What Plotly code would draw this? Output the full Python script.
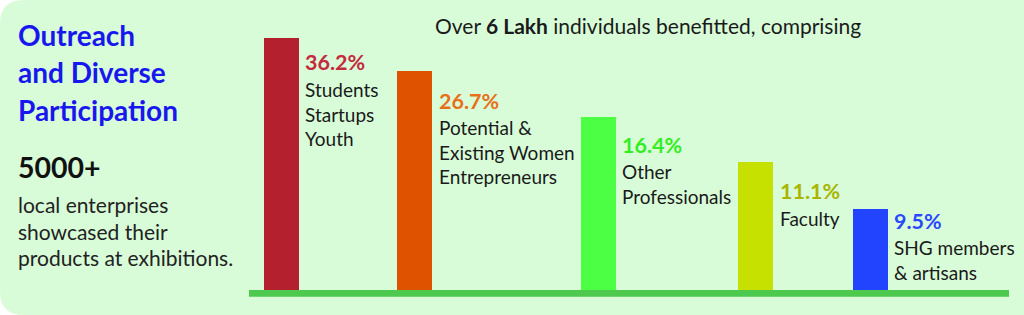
import plotly.graph_objects as go

# ---- data ----
categories = ["Students<br>Startups<br>Youth",
              "Potential &<br>Existing Women<br>Entrepreneurs",
              "Other<br>Professionals",
              "Faculty",
              "SHG members<br>& artisans"]
percent_labels = ["36.2%", "26.7%", "16.4%", "11.1%", "9.5%"]
# bar heights as drawn in the infographic (not proportional to the %)
bar_heights = [36.2, 31.4, 24.8, 18.3, 11.6]
bar_positions = [33.3, 166.8, 350.2, 507.8, 622.3]

bar_colors = ["#b5202f", "#df5300", "#4dff44", "#c6e000", "#2244ff"]
label_colors = ["#c42a3d", "#e8701a", "#33ee22", "#a9b500", "#2a48ff"]
label_drop = [32, 37, 35, 36, 19]  # px from bar top to % baseline

W, H = 1024, 315
FONT = "Lato"
ASC = 0.987

fig = go.Figure()
fig.add_trace(go.Bar(x=bar_positions, y=bar_heights, width=35,
                     marker=dict(color=bar_colors, line=dict(width=0)),
                     hoverinfo="skip"))

# background rounded panel
r = 24
x1 = W + 5
def px(x):
    return x / W
def py(y):
    return 1 - y / H
path = (f"M {px(r)} {py(0)} L {px(x1)} {py(0)} L {px(x1)} {py(H)} L {px(r)} {py(H)} "
        f"Q {px(0)} {py(H)} {px(0)} {py(H - r)} L {px(0)} {py(r)} Q {px(0)} {py(0)} {px(r)} {py(0)} Z")
fig.add_shape(type="path", path=path, xref="paper", yref="paper",
              fillcolor="#d8fcd8", line=dict(width=0), layer="below")

# baseline
fig.add_shape(type="rect", xref="paper", yref="paper",
              x0=px(249), x1=px(1009), y0=py(296.7), y1=py(290),
              fillcolor="#4dc94d", line=dict(width=0), layer="above")

def text_line(txt, x, baseline, size, color, bold=False, xanchor="left"):
    t = f"<b>{txt}</b>" if bold else txt
    fig.add_annotation(text=t, xref="paper", yref="paper",
                       x=px(x), y=py(baseline - 1 - ASC * size),
                       xanchor=xanchor, yanchor="top", showarrow=False,
                       font=dict(family=FONT, size=size, color=color))

# left panel text
title_lines = ["Outreach", "and Diverse", "Participation"]
for i, t in enumerate(title_lines):
    text_line(t, 16, 44.3 + i * 37.5, 28, "#1818ee", bold=True)
text_line("5000+", 16, 176.7, 28.5, "#111111", bold=True)
desc_lines = ["local enterprises", "showcased their", "products at exhibitions."]
for i, t in enumerate(desc_lines):
    text_line(t, 16, 211.7 + i * 26.6, 21, "#222222")

# header
text_line("Over <b>6 Lakh</b> individuals benefitted, comprising", 648, 32.3, 21,
          "#1a1a1a", xanchor="center")

# bar labels
PCT = 21.5
CAT = 19
for i in range(len(bar_heights)):
    xl = bar_positions[i] + 17.5 + 4.5
    fig.add_annotation(text=f"<b>{percent_labels[i]}</b>", xref="x", yref="y",
                       x=xl, y=bar_heights[i], xanchor="left", yanchor="top",
                       yshift=-(label_drop[i] - 1 - ASC * PCT), showarrow=False,
                       font=dict(family=FONT, size=PCT, color=label_colors[i]))
    fig.add_annotation(text=categories[i], xref="x", yref="y", align="left",
                       x=xl, y=bar_heights[i], xanchor="left", yanchor="top",
                       yshift=-(label_drop[i] + 26 - 1 - ASC * CAT), showarrow=False,
                       font=dict(family=FONT, size=CAT, color="#1a1a1a"))

fig.update_layout(
    width=W, height=H, margin=dict(l=0, r=0, t=0, b=0),
    paper_bgcolor="white", plot_bgcolor="rgba(0,0,0,0)",
    showlegend=False, bargap=0,
    xaxis=dict(domain=[248 / W, 1010 / W], range=[0, 762], visible=False, fixedrange=True),
    yaxis=dict(domain=[25 / H, 1], range=[0, 36.2 * 290 / 252.3], visible=False, fixedrange=True),
)

fig.write_html("out.html", config={"displayModeBar": False})
